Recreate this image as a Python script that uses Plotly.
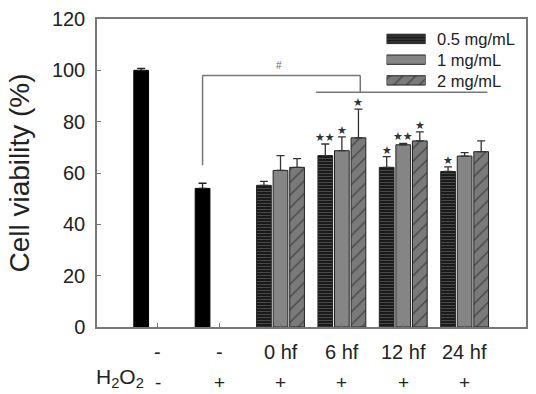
import plotly.graph_objects as go

# ---- data ----
cat_pos = [0, 1, 2, 3, 4, 5]
row1_labels = ["-", "-", "0 hf", "6 hf", "12 hf", "24 hf"]
row2_labels = ["-", "+", "+", "+", "+", "+"]

ctrl_x = [0, 1]
ctrl_vals = [100.0, 54.0]
ctrl_err = [0.8, 2.0]

grp_x = [2, 3, 4, 5]
series_names = ["0.5 mg/mL", "1 mg/mL", "2 mg/mL"]
series_vals = [
    [55.2, 66.8, 62.2, 60.6],
    [61.0, 68.7, 71.0, 66.6],
    [62.2, 73.7, 72.5, 68.3],
]
series_err = [
    [1.5, 4.5, 4.2, 1.8],
    [5.8, 5.4, 0.5, 1.3],
    [3.4, 11.2, 3.5, 4.2],
]
series_stars = [
    ["", "★★", "★", "★"],
    ["", "★", "★★", ""],
    ["", "★", "★", ""],
]

# bracket (# significance) in data units
bracket_y_top = 98.0
bracket_y_low = 91.5
bracket_x_start = 0.73
bracket_x_end = 3.30
bar_line_x = [2.58, 5.37]
bracket_base_y = 63.0

# ---- styles ----
offsets = [-0.39, -0.12, 0.15]
bar_w = 0.24
patterns = [
    dict(shape="-", fgcolor="#777777", bgcolor="#1a1a1a", size=3, solidity=0.35),
    dict(shape="", ),
    dict(shape="/", fgcolor="#111111", bgcolor="#7a7a7a", size=9, solidity=0.15),
]
colors = ["#1a1a1a", "#858585", "#7a7a7a"]
FONT = "Liberation Sans, Arial, sans-serif"

fig = go.Figure()

fig.add_trace(go.Bar(
    x=ctrl_x, y=ctrl_vals, width=bar_w, offset=-0.39,
    marker=dict(color="#000000", line=dict(color="#000000", width=1)),
    error_y=dict(type="data", symmetric=False, array=ctrl_err,
                 arrayminus=[0] * len(ctrl_err), color="#222", thickness=1.3, width=4),
    showlegend=False,
))

for i in range(3):
    fig.add_trace(go.Bar(
        x=grp_x, y=series_vals[i], width=bar_w, offset=offsets[i],
        name=series_names[i],
        marker=dict(color=colors[i], pattern=patterns[i],
                    line=dict(color="#222222", width=1)),
        error_y=dict(type="data", symmetric=False, array=series_err[i],
                     arrayminus=[0] * 4, color="#333", thickness=1.3, width=4),
        showlegend=False,
    ))
    for j, x in enumerate(grp_x):
        if series_stars[i][j]:
            fig.add_annotation(
                x=x + offsets[i] + bar_w / 2, y=series_vals[i][j] + series_err[i][j],
                text=series_stars[i][j], showarrow=False, yanchor="bottom",
                yshift=-2, font=dict(size=11, color="#333333", family="DejaVu Sans"),
            )

# custom legend drawn with horizontal bars on auxiliary axes
leg_rows = [0, 1, 2]
leg_text_y = [0.936, 0.868, 0.800]
for i in range(3):
    fig.add_trace(go.Bar(
        x=[1], y=[leg_rows[i]], orientation="h", width=0.45,
        marker=dict(color=colors[i], pattern=patterns[i],
                    line=dict(color="#222222", width=1)),
        xaxis="x2", yaxis="y2", showlegend=False, hoverinfo="skip",
    ))
    fig.add_annotation(
        x=0.789, y=leg_text_y[i], xref="paper", yref="paper", text=series_names[i],
        showarrow=False, xanchor="left", yanchor="middle",
        font=dict(size=16.5, color="#222222", family=FONT),
    )

# brackets
line_style = dict(color="#777777", width=1.5)
fig.add_shape(type="line", x0=bracket_x_start, x1=bracket_x_start,
              y0=bracket_base_y, y1=bracket_y_top, line=line_style)
fig.add_shape(type="line", x0=bracket_x_start, x1=bracket_x_end,
              y0=bracket_y_top, y1=bracket_y_top, line=line_style)
fig.add_shape(type="line", x0=bracket_x_end, x1=bracket_x_end,
              y0=bracket_y_top, y1=bracket_y_low, line=line_style)
fig.add_shape(type="line", x0=bar_line_x[0], x1=bar_line_x[1],
              y0=bracket_y_low, y1=bracket_y_low, line=line_style)
fig.add_annotation(x=1.98, y=bracket_y_top, text="#", showarrow=False,
                   yanchor="bottom", yshift=2,
                   font=dict(size=10, color="#666666", family=FONT))

# x labels rows
for x, t1, t2 in zip(cat_pos, row1_labels, row2_labels):
    fig.add_annotation(x=x, y=-0.080, xref="x", yref="paper", text=t1,
                       showarrow=False, yanchor="middle",
                       font=dict(size=20, color="#222222", family=FONT))
    fig.add_annotation(x=x, y=-0.180, xref="x", yref="paper", text=t2,
                       showarrow=False, yanchor="middle",
                       font=dict(size=19, color="#222222", family=FONT))
fig.add_annotation(x=0.114, y=-0.166, xref="paper", yref="paper",
                   text="H<sub>2</sub>O<sub>2</sub>", showarrow=False,
                   xanchor="right", yanchor="middle",
                   font=dict(size=21, color="#222222", family=FONT))

fig.update_layout(
    width=536, height=394,
    margin=dict(l=97, r=8, t=16, b=67),
    paper_bgcolor="white", plot_bgcolor="white",
    barmode="overlay",
    font=dict(family=FONT, color="#222222"),
    xaxis=dict(range=[-0.99, 6.0], tickvals=cat_pos, showticklabels=False,
               ticks="inside", ticklen=4, tickcolor="#777", showgrid=False,
               zeroline=False, showline=True, linecolor="#777777", linewidth=1.5,
               mirror=True),
    yaxis=dict(range=[0, 120], dtick=20, ticks="inside", ticklen=4,
               tickcolor="#777", showgrid=False, zeroline=False, showline=True,
               linecolor="#777777", linewidth=1.5, mirror=True,
               ticklabelstandoff=6,
               tickfont=dict(size=20, color="#222222"),
               title=dict(text="Cell viability (%)", font=dict(size=28, color="#222222"),
                          standoff=14)),
    xaxis2=dict(domain=[0.675, 0.766], range=[0, 1], visible=False, fixedrange=True),
    yaxis2=dict(domain=[0.767, 0.969], range=[2.5, -0.5], visible=False,
                anchor="x2", fixedrange=True),
    showlegend=False,
)

fig.write_html("out.html")
